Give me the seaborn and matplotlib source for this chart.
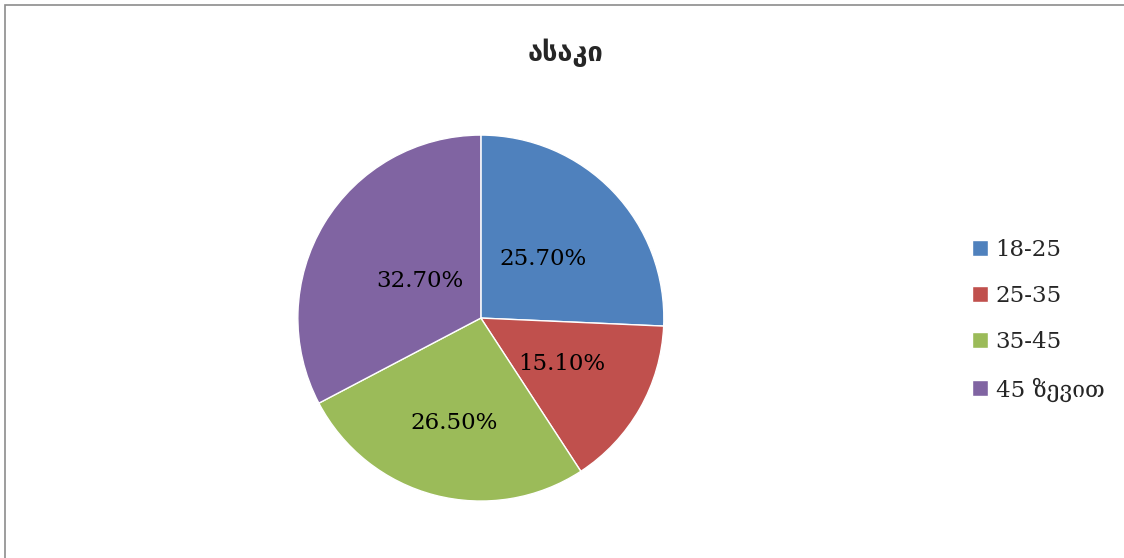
import matplotlib
matplotlib.use("Agg")
import matplotlib.pyplot as plt
import numpy as np
import seaborn as sns

# data
labels = ["18-25", "25-35", "35-45", "45 ზევით"]
values = [25.7, 15.1, 26.5, 32.7]
pct_text = ["25.70%", "15.10%", "26.50%", "32.70%"]
title = "ასაკი"

colors = ["#4F81BD", "#C0504D", "#9BBB59", "#8064A2"]
label_dist = [0.47, 0.51, 0.59, 0.39]

sns.set_theme(style="white")
plt.rcParams['font.family'] = ['DejaVu Serif', 'DejaVu Sans']

fig = plt.figure(figsize=(11.24, 5.58), dpi=100)
fig.patch.set_facecolor("white")

# outer frame like the chart area border
fig.add_artist(plt.Rectangle((5 / 1124, -0.01), 1.02, 1 - 5 / 558 + 0.01,
                             transform=fig.transFigure, fill=False,
                             edgecolor="#8c8c8c", linewidth=1.2))

ax = fig.add_axes([0.265, 0.102, 0.3256, 0.656])
wedges, _ = ax.pie(values, colors=sns.color_palette(colors), startangle=90,
                   counterclock=False,
                   wedgeprops=dict(edgecolor="white", linewidth=1))
ax.set_xlim(-1, 1)
ax.set_ylim(-1, 1)
ax.set_aspect("equal")

for w, txt, d in zip(wedges, pct_text, label_dist):
    ang = np.deg2rad((w.theta1 + w.theta2) / 2)
    ax.text(d * np.cos(ang), d * np.sin(ang), txt, ha="center", va="center",
            fontsize=16.5, color="black")

fig.text(0.503, 0.905, title, ha="center", va="center", fontsize=19.5,
         fontweight="bold", family=["DejaVu Sans"])

fig.legend(wedges, labels, loc="center left", bbox_to_anchor=(0.846, 0.426),
           frameon=False, fontsize=16.5, handlelength=0.7, handleheight=0.7,
           handletextpad=0.35, labelspacing=1.05)

fig.savefig("out.png", dpi=100, facecolor="white")
